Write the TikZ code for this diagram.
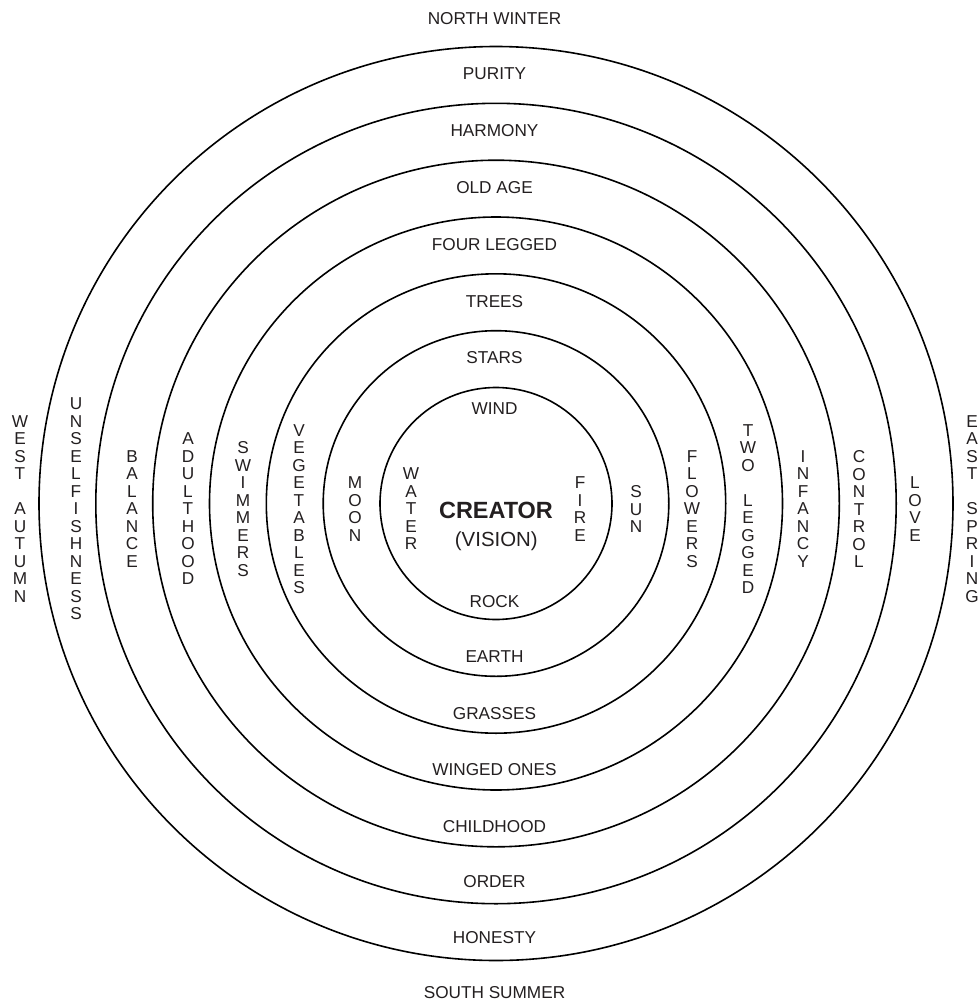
\documentclass[tikz,border=0pt]{standalone}
\usepackage{fontspec}
\setmainfont{Liberation Sans}
\begin{document}
\begin{tikzpicture}[x=0.75pt,y=-0.75pt,
  ring/.style={draw=black, line width=1.2pt, circle, inner sep=0pt, minimum size=#1*1.5pt},
  lbl/.style={text=ink, font=\fontsize{12.9}{15}\selectfont, inner sep=0pt, text height=9.24pt, text depth=0pt},
  vlbl/.style={text=ink, font=\fontsize{12.9}{13.125}\selectfont, align=center, inner sep=0pt},
  title/.style={text=ink, font=\fontsize{17.6}{20}\selectfont\bfseries, inner sep=0pt, text height=12.6pt, text depth=0pt},
  subtitle/.style={text=ink, font=\fontsize{15.3}{18}\selectfont, inner sep=0pt, text height=10.96pt, text depth=0pt}]
\definecolor{ink}{HTML}{231F20}
\useasboundingbox (0,0) rectangle (979,1000);
\fill[white] (0,0) rectangle (979,1000);

% concentric rings
\coordinate (ctr) at (496,503.5);
\node[ring=116]   (r1) at (ctr) {};
\node[ring=172.8] (r2) at (ctr) {};
\node[ring=229.7] (r3) at (ctr) {};
\node[ring=286.5] (r4) at (ctr) {};
\node[ring=343.3] (r5) at (ctr) {};
\node[ring=400.2] (r6) at (ctr) {};
\node[ring=457]   (r7) at (ctr) {};

% centre
\node[title]    (creator) at (496,510.3) {CREATOR};
\node[subtitle] (vision)  at (496.3,538.7) {(VISION)};

% north column
\node[lbl] (north)   at (494.5,18)    {NORTH WINTER};
\node[lbl] (purity)  at (494.5,73)    {PURITY};
\node[lbl] (harmony) at (494.5,130.8) {HARMONY};
\node[lbl] (oldage)  at (494.5,187.5) {OLD AGE};
\node[lbl] (fourleg) at (494.5,244)   {FOUR LEGGED};
\node[lbl] (trees)   at (494.5,301)   {TREES};
\node[lbl] (stars)   at (494.5,357.5) {STARS};
\node[lbl] (wind)    at (494.5,408)   {WIND};

% south column
\node[lbl] (rock)      at (494.5,601)   {ROCK};
\node[lbl] (earth)     at (494.5,656.5) {EARTH};
\node[lbl] (grasses)   at (494.5,713)   {GRASSES};
\node[lbl] (winged)    at (494.5,769.5) {WINGED ONES};
\node[lbl] (childhood) at (494.5,826)   {CHILDHOOD};
\node[lbl] (order)     at (494.5,881.5) {ORDER};
\node[lbl] (honesty)   at (494.5,937)   {HONESTY};
\node[lbl] (south)     at (494.5,992)   {SOUTH SUMMER};

% west row
\node[vlbl] (west)    at (20,509)  {W\\E\\S\\T\\\mbox{}\\A\\U\\T\\U\\M\\N};
\node[vlbl] (unself)  at (76,509)  {U\\N\\S\\E\\L\\F\\I\\S\\H\\N\\E\\S\\S};
\node[vlbl] (balance) at (132,509) {B\\A\\L\\A\\N\\C\\E};
\node[vlbl] (adult)   at (188,509) {A\\D\\U\\L\\T\\H\\O\\O\\D};
\node[vlbl] (swim)    at (243,509) {S\\W\\I\\M\\M\\E\\R\\S};
\node[vlbl] (veg)     at (299,509) {V\\E\\G\\E\\T\\A\\B\\L\\E\\S};
\node[vlbl] (moon)    at (355,509) {M\\O\\O\\N};
\node[vlbl] (water)   at (411,509) {W\\A\\T\\E\\R};

% east row
\node[vlbl] (fire)    at (580,509) {F\\I\\R\\E};
\node[vlbl] (sun)     at (636,509) {S\\U\\N};
\node[vlbl] (flowers) at (692,509) {F\\L\\O\\W\\E\\R\\S};
\node[vlbl] (twoleg)  at (748,509) {T\\W\\O\\\mbox{}\\L\\E\\G\\G\\E\\D};
\node[vlbl] (infancy) at (803,509) {I\\N\\F\\A\\N\\C\\Y};
\node[vlbl] (control) at (859,509) {C\\O\\N\\T\\R\\O\\L};
\node[vlbl] (love)    at (915,509) {L\\O\\V\\E};
\node[vlbl] (east)    at (972,509) {E\\A\\S\\T\\\mbox{}\\S\\P\\R\\I\\N\\G};
\end{tikzpicture}
\end{document}
